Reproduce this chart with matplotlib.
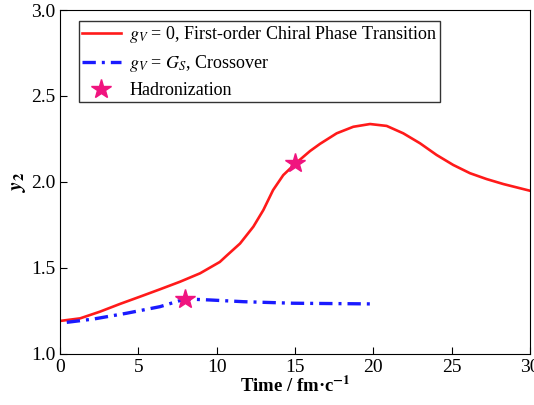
import matplotlib
matplotlib.use('Agg')
import matplotlib.pyplot as plt

plt.rcParams['font.family'] = ['Liberation Serif', 'DejaVu Serif']
plt.rcParams['mathtext.fontset'] = 'stix'

# first-order transition curve (g_V = 0)
t_first = [0.0, 1.28, 2.55, 3.83, 5.1, 6.38, 7.66, 8.94, 10.2, 10.64, 11.49, 12.34,
           12.98, 13.6, 14.25, 15.0, 15.96, 16.6, 17.66, 18.72, 19.79, 20.85, 21.91,
           22.98, 24.04, 25.1, 26.17, 27.23, 28.3, 30.0]
y_first = [1.192, 1.207, 1.246, 1.291, 1.333, 1.376, 1.42, 1.469, 1.535, 1.572, 1.642,
           1.74, 1.837, 1.953, 2.04, 2.105, 2.18, 2.222, 2.283, 2.321, 2.337, 2.326,
           2.283, 2.225, 2.157, 2.099, 2.051, 2.017, 1.988, 1.949]

# crossover curve (g_V = G_S)
t_cross = [0.43, 2.13, 4.26, 6.38, 8.0, 9.57, 11.7, 14.89, 20.0]
y_cross = [1.184, 1.203, 1.237, 1.275, 1.32, 1.314, 1.304, 1.295, 1.291]

# hadronization points
t_had = [8.0, 15.0]
y_had = [1.322, 2.108]

fig = plt.figure(figsize=(5.34, 4.05), dpi=100)
ax = fig.add_axes([0.1124, 0.126, 0.8801, 0.8493])

ax.plot(t_first, y_first, color='#ff1a1a', lw=1.9,
        label=r'$g_V$ = 0, First-order Chiral Phase Transition')
ax.plot(t_cross, y_cross, color='#1a1aff', lw=2.4, dashes=(4, 1.8, 0.9, 1.8),
        label=r'$g_V$ = $G_S$, Crossover')
ax.plot(t_had, y_had, ls='none', marker='*', ms=15, color='#f0147f',
        label='Hadronization', zorder=5)

ax.set_xlim(0, 30)
ax.set_ylim(1.0, 3.0)
ax.set_xticks([0, 5, 10, 15, 20, 25, 30])
ax.set_yticks([1.0, 1.5, 2.0, 2.5, 3.0])
ax.set_yticklabels(['1.0', '1.5', '2.0', '2.5', '3.0'])
ax.tick_params(direction='in', length=5, labelsize=14, top=False, right=False)

ax.set_xlabel(r'Time / fm·c$^{\mathbf{-1}}$', fontsize=13.5, fontweight='bold', labelpad=0)
ax.set_ylabel(r'$\mathbfit{y}_{\mathbf{2}}$', fontsize=15, labelpad=2)

leg = ax.legend(loc='upper left', bbox_to_anchor=(0.040, 0.967), fontsize=13,
                frameon=True, fancybox=False, edgecolor='black', handlelength=2.2,
                borderpad=0.15, labelspacing=0.45, handletextpad=0.45, borderaxespad=0)
leg.get_frame().set_linewidth(1.0)

fig.savefig('out.png', dpi=100)
